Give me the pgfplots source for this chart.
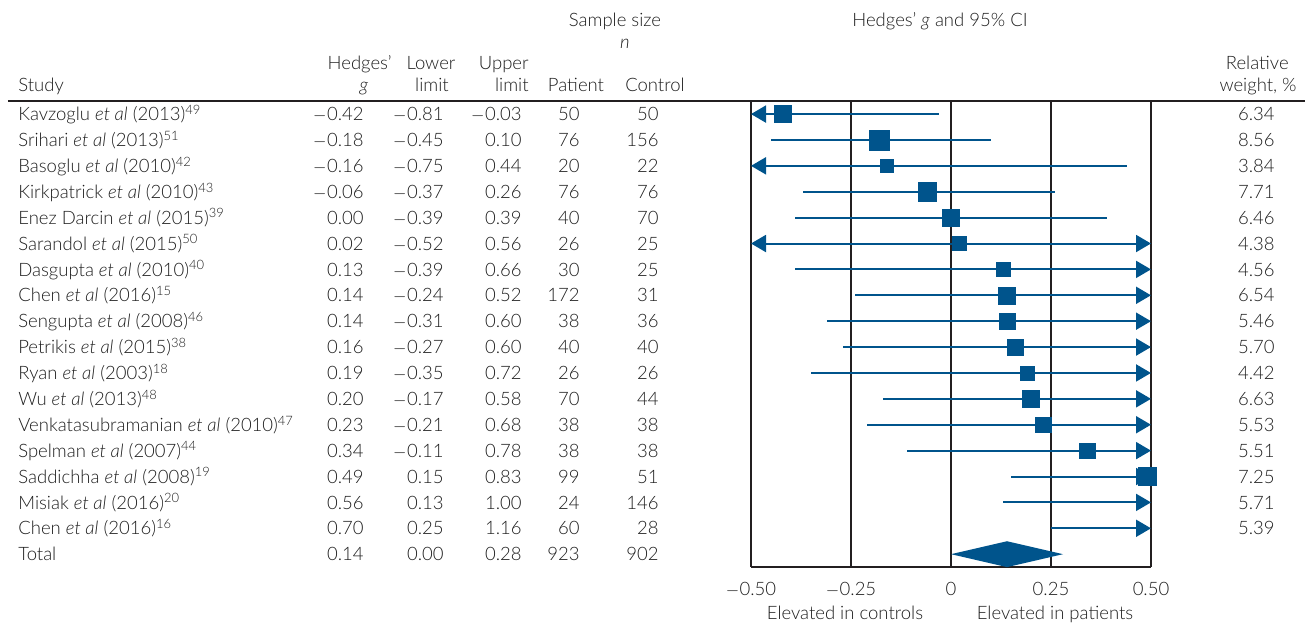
\documentclass[border=0pt]{standalone}
\usepackage{pgfplots}
\pgfplotsset{compat=1.18}
\usepackage{pgfplotstable}
\usetikzlibrary{arrows.meta}
\usepackage{fontspec}
\setmainfont{Lato}[UprightFont={* Light}, ItalicFont={* Light Italic}]
\definecolor{fp}{RGB}{0,84,140}
\definecolor{gl}{RGB}{35,31,32}
\definecolor{tx}{RGB}{30,30,30}
\tikzset{tnode/.style={yshift=-2bp}}

\pgfplotstableread{
row g w
1 -0.42 6.34
2 -0.18 8.56
3 -0.16 3.84
4 -0.06 7.71
5 0.00 6.46
6 0.02 4.38
7 0.13 4.56
8 0.14 6.54
9 0.14 5.46
10 0.16 5.70
11 0.19 4.42
12 0.20 6.63
13 0.23 5.53
14 0.34 5.51
15 0.49 7.25
16 0.56 5.71
17 0.70 5.39
}\boxes

\newcommand\rowtext[8]{%
  \node[tnode, anchor=mid west] at (axis cs:-2.3475,#1) {#2};
  \node[tnode, anchor=mid east] at (axis cs:-1.4525,#1) {#3};
  \node[tnode, anchor=mid east] at (axis cs:-1.2525,#1) {#4};
  \node[tnode, anchor=mid east] at (axis cs:-1.0575,#1) {#5};
  \node[tnode, anchor=mid east] at (axis cs:-0.9125,#1) {#6};
  \node[tnode, anchor=mid east] at (axis cs:-0.715,#1) {#7};
  \node[tnode, anchor=mid east] at (axis cs:0.825,#1) {#8};
}
\newcommand\m{$-$\kern0.5bp}

\begin{document}
\fontsize{18.5bp}{22bp}\selectfont
\color{tx}
\begin{tikzpicture}
\begin{axis}[
  scale only axis, width=400bp, height=466bp,
  xmin=-0.5, xmax=0.5, ymin=0.5, ymax=18.5, y dir=reverse,
  clip=false,
  axis x line=bottom, axis y line=none,
  x axis line style={-, line width=1.6bp, gl},
  xtick={-0.5,-0.25,0,0.25,0.5},
  xticklabels={\m0.50,\m0.25,0,0.25,0.50},
  major tick length=0pt,
  xticklabel style={font=\fontsize{18.5bp}{22bp}\selectfont, text=tx, yshift=-9bp},
  xmajorgrids, grid style={gl, line width=1.6bp},
  every node/.style={inner sep=0pt, outer sep=0pt},
]
% top rule
\addplot[gl, line width=2.4bp, forget plot] coordinates {(-2.3575,0.5) (0.885,0.5)};

% confidence intervals
\tikzset{ci/.style={fp, line width=2bp}}
\addplot[ci, {Triangle[length=15bp,width=17bp]}-] coordinates {(-0.5,1) (-0.03,1)};
\addplot[ci] coordinates {(-0.45,2) (0.10,2)};
\addplot[ci, {Triangle[length=15bp,width=17bp]}-] coordinates {(-0.5,3) (0.44,3)};
\addplot[ci] coordinates {(-0.37,4) (0.26,4)};
\addplot[ci] coordinates {(-0.39,5) (0.39,5)};
\addplot[ci, {Triangle[length=15bp,width=17bp]}-{Triangle[length=15bp,width=17bp]}] coordinates {(-0.5,6) (0.5,6)};
\addplot[ci, -{Triangle[length=15bp,width=17bp]}] coordinates {(-0.39,7) (0.5,7)};
\addplot[ci, -{Triangle[length=15bp,width=17bp]}] coordinates {(-0.24,8) (0.5,8)};
\addplot[ci, -{Triangle[length=15bp,width=17bp]}] coordinates {(-0.31,9) (0.5,9)};
\addplot[ci, -{Triangle[length=15bp,width=17bp]}] coordinates {(-0.27,10) (0.5,10)};
\addplot[ci, -{Triangle[length=15bp,width=17bp]}] coordinates {(-0.35,11) (0.5,11)};
\addplot[ci, -{Triangle[length=15bp,width=17bp]}] coordinates {(-0.17,12) (0.5,12)};
\addplot[ci, -{Triangle[length=15bp,width=17bp]}] coordinates {(-0.21,13) (0.5,13)};
\addplot[ci, -{Triangle[length=15bp,width=17bp]}] coordinates {(-0.11,14) (0.5,14)};
\addplot[ci, -{Triangle[length=15bp,width=17bp]}] coordinates {(0.15,15) (0.5,15)};
\addplot[ci, -{Triangle[length=15bp,width=17bp]}] coordinates {(0.13,16) (0.5,16)};
\addplot[ci, -{Triangle[length=15bp,width=17bp]}] coordinates {(0.25,17) (0.5,17)};

% study boxes, area proportional to weight
\addplot[scatter, only marks, mark=square*,
  restrict x to domain=-0.5:0.5,
  point meta=explicit,
  scatter/use mapped color={draw=fp, fill=fp},
  visualization depends on={3.35*sqrt(\thisrow{w}) \as \ms},
  scatter/@pre marker code/.append style={/tikz/mark size=\ms},
  ]
  table[x=g, y=row, meta=w] {\boxes};

% pooled estimate
\addplot[fill=fp, draw=none] coordinates {(0,18) (0.14,17.5) (0.28,18) (0.14,18.5)} -- cycle;

% headers
\node[tnode, anchor=mid] at (axis cs:-0.84,-2.633) {Sample size};
\node[tnode, anchor=mid] at (axis cs:-0.815,-1.783) {\textit{n}};
\node[tnode, anchor=mid] at (axis cs:-0.0275,-2.633) {Hedges’ \textit{g} and 95\% CI};
\node[tnode, anchor=mid east] at (axis cs:-1.3825,-0.971) {Hedges’};
\node[tnode, anchor=mid] at (axis cs:-1.4675,-0.121) {\textit{g}};
\node[tnode, anchor=mid] at (axis cs:-1.3,-0.971) {Lower};
\node[tnode, anchor=mid] at (axis cs:-1.2975,-0.121) {limit};
\node[tnode, anchor=mid east] at (axis cs:-1.04,-0.971) {Upper};
\node[tnode, anchor=mid east] at (axis cs:-1.04,-0.121) {limit};
\node[tnode, anchor=mid] at (axis cs:-0.9375,-0.121) {Patient};
\node[tnode, anchor=mid] at (axis cs:-0.74,-0.121) {Control};
\node[tnode, anchor=mid west] at (axis cs:-2.3475,-0.121) {Study};
\node[tnode, anchor=mid east] at (axis cs:0.86,-0.971) {Relative};
\node[tnode, anchor=mid east] at (axis cs:0.88,-0.121) {weight, \%};

\rowtext{1}{Kavzoglu \textit{et al} (2013)\textsuperscript{49}}{\m0.42}{\m0.81}{\m0.03}{50}{50}{6.34}
\rowtext{2}{Srihari \textit{et al} (2013)\textsuperscript{51}}{\m0.18}{\m0.45}{0.10}{76}{156}{8.56}
\rowtext{3}{Basoglu \textit{et al} (2010)\textsuperscript{42}}{\m0.16}{\m0.75}{0.44}{20}{22}{3.84}
\rowtext{4}{Kirkpatrick \textit{et al} (2010)\textsuperscript{43}}{\m0.06}{\m0.37}{0.26}{76}{76}{7.71}
\rowtext{5}{Enez Darcin \textit{et al} (2015)\textsuperscript{39}}{0.00}{\m0.39}{0.39}{40}{70}{6.46}
\rowtext{6}{Sarandol \textit{et al} (2015)\textsuperscript{50}}{0.02}{\m0.52}{0.56}{26}{25}{4.38}
\rowtext{7}{Dasgupta \textit{et al} (2010)\textsuperscript{40}}{0.13}{\m0.39}{0.66}{30}{25}{4.56}
\rowtext{8}{Chen \textit{et al} (2016)\textsuperscript{15}}{0.14}{\m0.24}{0.52}{172}{31}{6.54}
\rowtext{9}{Sengupta \textit{et al} (2008)\textsuperscript{46}}{0.14}{\m0.31}{0.60}{38}{36}{5.46}
\rowtext{10}{Petrikis \textit{et al} (2015)\textsuperscript{38}}{0.16}{\m0.27}{0.60}{40}{40}{5.70}
\rowtext{11}{Ryan \textit{et al} (2003)\textsuperscript{18}}{0.19}{\m0.35}{0.72}{26}{26}{4.42}
\rowtext{12}{Wu \textit{et al} (2013)\textsuperscript{48}}{0.20}{\m0.17}{0.58}{70}{44}{6.63}
\rowtext{13}{Venkatasubramanian \textit{et al} (2010)\textsuperscript{47}}{0.23}{\m0.21}{0.68}{38}{38}{5.53}
\rowtext{14}{Spelman \textit{et al} (2007)\textsuperscript{44}}{0.34}{\m0.11}{0.78}{38}{38}{5.51}
\rowtext{15}{Saddichha \textit{et al} (2008)\textsuperscript{19}}{0.49}{0.15}{0.83}{99}{51}{7.25}
\rowtext{16}{Misiak \textit{et al} (2016)\textsuperscript{20}}{0.56}{0.13}{1.00}{24}{146}{5.71}
\rowtext{17}{Chen \textit{et al} (2016)\textsuperscript{16}}{0.70}{0.25}{1.16}{60}{28}{5.39}
\rowtext{18}{Total}{0.14}{0.00}{0.28}{923}{902}{}

\node[tnode, anchor=mid] at (axis cs:-0.265,20.285) {Elevated in controls};
\node[tnode, anchor=mid] at (axis cs:0.26,20.285) {Elevated in patients};

\coordinate (bl) at (axis cs:-2.3775,20.67);
\coordinate (tr) at (axis cs:0.885,-3.406);
\end{axis}
\pgfresetboundingbox
\path[use as bounding box] (bl) rectangle (tr);
\end{tikzpicture}
\end{document}
